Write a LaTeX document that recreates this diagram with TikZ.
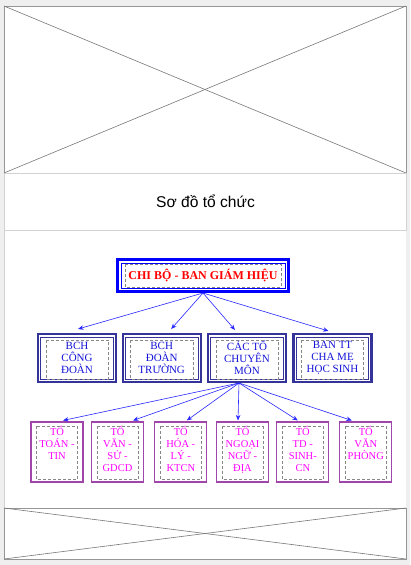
\documentclass[tikz,border=0pt]{standalone}
\usepackage{fontspec}
\setmainfont{Liberation Serif}
\newfontfamily\captionfont{Liberation Sans}
\usetikzlibrary{arrows.meta}

\definecolor{pagegray}{RGB}{239,239,239}
\definecolor{framegray}{RGB}{150,150,150}
\definecolor{crossgray}{RGB}{120,120,120}
\definecolor{bandgray}{RGB}{210,210,210}
\definecolor{boardblue}{RGB}{0,0,255}
\definecolor{unitnavy}{RGB}{51,51,153}
\definecolor{unittext}{RGB}{20,20,215}
\definecolor{grouppurple}{RGB}{160,70,170}
\definecolor{grouptext}{RGB}{255,0,255}
\definecolor{linkblue}{RGB}{40,40,255}
\definecolor{dashgray}{RGB}{135,135,135}

\newcommand{\grouplines}[1]{\parbox[c][52pt][t]{50pt}{\centering\fontsize{10.5}{12}\selectfont #1}}

\begin{document}
\begin{tikzpicture}[x=1pt,y=-1pt,
    boardbox/.style={draw=boardblue, line width=3pt, minimum width=171pt, minimum height=32pt,
      inner sep=0pt, text=red, font=\bfseries\fontsize{12}{14}\selectfont},
    unitbox/.style={draw=unitnavy, line width=2.4pt, minimum width=78pt, minimum height=47.6pt,
      inner sep=0pt, align=center, text=unittext, font=\fontsize{11}{12}\selectfont},
    groupbox/.style={draw=grouppurple, line width=1.1pt, minimum width=52pt, minimum height=60pt,
      inner sep=0pt, text=grouptext},
    innerdash/.style={draw=dashgray, densely dashed, line width=0.5pt},
    link/.style={draw=linkblue, line width=0.6pt, -{Stealth[length=5.5pt,width=4.5pt]}}]
  \useasboundingbox (0,0) rectangle (410,565);
  \fill[pagegray] (0,0) rectangle (410,565);

  % image placeholders and caption band
  \fill[white] (4,6) rectangle (406,559);
  \draw[framegray, line width=0.8pt] (4,6) rectangle (406,173);
  \draw[crossgray, line width=0.6pt] (4,6) -- (406,173);
  \draw[crossgray, line width=0.6pt] (4,173) -- (406,6);
  \draw[bandgray, line width=0.8pt] (4,173) rectangle (406,230);
  \node[font=\captionfont\fontsize{15.6}{18}\selectfont] (caption) at (205.5,201) {Sơ đồ tổ chức};
  \draw[bandgray, line width=0.8pt] (4,230) -- (4,508);
  \draw[framegray, line width=0.8pt] (4,508) rectangle (406,559);
  \draw[crossgray, line width=0.6pt] (4,508) -- (406,559);
  \draw[crossgray, line width=0.6pt] (4,559) -- (406,508);

  % board
  \node[boardbox] (board) at (203,275.5) {CHI BỘ - BAN GIÁM HIỆU};
  \draw[boardblue, line width=0.8pt] ([shift={(5,5)}]board.north west) rectangle ([shift={(-5,-5)}]board.south east);
  \draw[innerdash] ([shift={(9,6)}]board.north west) rectangle ([shift={(-9,-6)}]board.south east);

  % units
  \node[unitbox] (union) at (77,358) {BCH\\CÔNG\\ĐOÀN};
  \node[unitbox] (youth) at (161.7,358) {BCH\\ĐOÀN\\TRƯỜNG};
  \node[unitbox] (subjects) at (247,358) {CÁC TỔ\\CHUYÊN\\MÔN};
  \node[unitbox] (parents) at (332.5,358) {BAN TT\\CHA MẸ\\HỌC SINH};
  \draw[unitnavy, line width=0.7pt] ([shift={(4,4)}]union.north west) rectangle ([shift={(-4,-4)}]union.south east);
  \draw[innerdash] ([shift={(9,7)}]union.north west) rectangle ([shift={(-9,-4)}]union.south east);
  \draw[unitnavy, line width=0.7pt] ([shift={(4,4)}]youth.north west) rectangle ([shift={(-4,-4)}]youth.south east);
  \draw[innerdash] ([shift={(9,7)}]youth.north west) rectangle ([shift={(-9,-4)}]youth.south east);
  \draw[unitnavy, line width=0.7pt] ([shift={(4,4)}]subjects.north west) rectangle ([shift={(-4,-4)}]subjects.south east);
  \draw[innerdash] ([shift={(9,7)}]subjects.north west) rectangle ([shift={(-9,-4)}]subjects.south east);
  \draw[unitnavy, line width=0.7pt] ([shift={(4,4)}]parents.north west) rectangle ([shift={(-4,-4)}]parents.south east);
  \draw[innerdash] ([shift={(9,7)}]parents.north west) rectangle ([shift={(-9,-4)}]parents.south east);

  % subject groups
  \node[groupbox] (math) at (57,452) {\grouplines{TỔ\\TOÁN -\\TIN}};
  \node[groupbox] (lit) at (117.5,452) {\grouplines{TỔ\\VĂN -\\SỬ -\\GDCD}};
  \node[groupbox] (chem) at (180.8,452) {\grouplines{TỔ\\HÓA -\\LÝ -\\KTCN}};
  \node[groupbox] (lang) at (242.5,452) {\grouplines{TỔ\\NGOẠI\\NGỮ -\\ĐỊA}};
  \node[groupbox] (sport) at (302.8,452) {\grouplines{TỔ\\TD -\\SINH-\\CN}};
  \node[groupbox] (office) at (365.8,452) {\grouplines{TỔ\\VĂN\\PHÒNG}};
  \draw[innerdash] ([shift={(6,5)}]math.north west) rectangle ([shift={(-6,-3)}]math.south east);
  \draw[innerdash] ([shift={(6,5)}]lit.north west) rectangle ([shift={(-6,-3)}]lit.south east);
  \draw[innerdash] ([shift={(6,5)}]chem.north west) rectangle ([shift={(-6,-3)}]chem.south east);
  \draw[innerdash] ([shift={(6,5)}]lang.north west) rectangle ([shift={(-6,-3)}]lang.south east);
  \draw[innerdash] ([shift={(6,5)}]sport.north west) rectangle ([shift={(-6,-3)}]sport.south east);
  \draw[innerdash] ([shift={(6,5)}]office.north west) rectangle ([shift={(-6,-3)}]office.south east);

  % links
  \draw[link] (board.south) -- ([shift={(1,-4)}]union.north);
  \draw[link] (board.south) -- ([shift={(9.5,-4)}]youth.north);
  \draw[link] (board.south) -- ([shift={(-12,-3)}]subjects.north);
  \draw[link] (board.south) -- ([shift={(-4,-2)}]parents.north);
  \coordinate (fork) at ([xshift=-8pt]subjects.south);
  \draw[link] (fork) -- ([shift={(6,-1)}]math.north);
  \draw[link] (fork) -- ([shift={(15.5,-1)}]lit.north);
  \draw[link] (fork) -- ([shift={(6,-1)}]chem.north);
  \draw[link] (fork) -- ([shift={(-4.5,-1)}]lang.north);
  \draw[link] (fork) -- ([shift={(-5,-1)}]sport.north);
  \draw[link] (fork) -- ([shift={(-14,-1)}]office.north);
\end{tikzpicture}
\end{document}
